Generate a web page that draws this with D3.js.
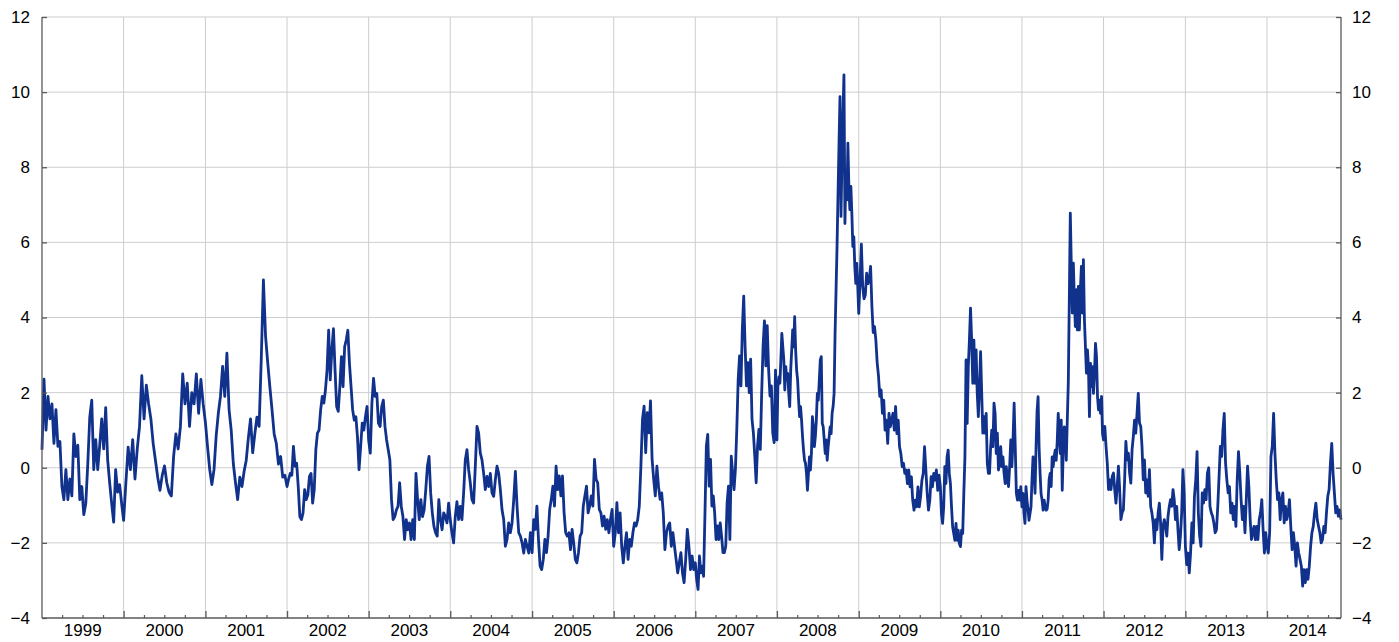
<!DOCTYPE html>
<html>
<head>
<meta charset="utf-8">
<script src="https://d3js.org/d3.v7.min.js"></script>
<style>
body { margin: 0; background: #fff; }
svg { display: block; font-family: "Liberation Sans", Arial, sans-serif; }
</style>
</head>
<body>
<svg id="chart" width="1399" height="642"></svg>
<script>
// values, evenly spread over each calendar year
var d1999 = [0.48, 2.36, 1.0, 1.9, 1.3, 1.7, 0.65, 1.55, 0.57, 0.7, -0.5, -0.85, -0.05, -0.85, -0.3, -0.75, 0.9, 0.3, 0.6, -0.85, -0.5, -1.25, -0.95, 0.1, 1.35, 1.8, -0.05, 0.75, -0.05, 0.6, 1.3, 0.5, 1.6, 0.2, -0.4, -0.95, -1.45, -0.05, -0.65, -0.45, -0.95];
var d2000 = [-1.4, -0.4, 0.55, -0.05, 0.75, -0.3, 0.5, 1.1, 2.45, 1.3, 2.2, 1.7, 1.3, 0.65, 0.2, -0.25, -0.6, -0.2, 0.05, -0.4, -0.65, -0.75, 0.3, 0.9, 0.5, 1.1, 2.5, 1.7, 2.25, 1.1, 2.0, 1.7, 2.5, 1.45, 2.35, 1.7];
var d2001 = [1.2, 0.55, -0.05, -0.45, -0.05, 0.85, 1.45, 1.9, 2.7, 1.9, 3.05, 1.55, 1.0, 0.1, -0.4, -0.85, -0.25, -0.5, -0.1, 0.2, 0.8, 1.3, 0.4, 0.9, 1.35, 1.1, 2.9, 5.0, 3.5, 2.8, 2.15, 1.55, 0.9, 0.65, 0.1, 0.3, -0.25, -0.2];
var d2002 = [-0.5, -0.3, -0.15, -0.2, 0.57, 0.04, 0.12, -0.5, -1.3, -1.38, -1.2, -0.58, -0.85, -0.72, -0.23, -0.15, -0.94, -0.58, 0.48, 0.92, 1.0, 1.54, 1.9, 1.72, 2.07, 2.6, 3.66, 2.34, 3.13, 3.7, 2.6, 1.63, 1.5, 2.16, 2.96, 2.16, 3.22, 3.4, 3.66, 2.78, 2.16, 1.54, 1.27, 1.36, 0.83, -0.05, 0.57, 1.19, 1.0, 1.36, 1.63];
var d2003 = [0.74, 0.39, 1.72, 2.38, 1.9, 1.98, 1.19, 1.1, 1.63, 1.8, 1.1, 0.74, 0.48, 0.21, -0.85, -1.38, -1.3, -1.12, -1.03, -0.4, -1.03, -1.3, -1.91, -1.38, -1.65, -1.47, -1.91, -1.38, -1.91, -0.15, -0.85, -1.38, -0.85, -1.3, -1.12, -0.58, 0.04, 0.3, -0.67, -1.2, -1.56, -1.73, -1.82, -0.85, -1.38, -1.65, -1.2, -1.3, -1.47, -0.94];
var d2004 = [-1.38, -1.73, -2.0, -1.3, -0.9, -1.38, -1.03, -1.38, -0.67, 0.21, 0.48, -0.05, -0.4, -0.85, -0.94, 0.04, 1.1, 0.92, 0.39, 0.21, -0.15, -0.58, -0.23, -0.5, -0.15, -0.67, -0.76, -0.32, 0.04, -0.15, -0.58, -1.12, -1.38, -2.09, -1.91, -1.47, -1.73, -1.47, -0.85, -0.1, -1.03, -1.73, -1.82, -2.0, -2.27, -1.91, -2.09, -2.27, -1.73];
var d2005 = [-2.26, -1.38, -1.64, -1.02, -1.91, -2.62, -2.71, -2.44, -1.91, -2.26, -1.82, -1.11, -0.84, -0.49, -1.02, 0.04, -0.58, -0.22, -0.75, -0.22, -1.2, -1.73, -1.82, -1.73, -2.18, -1.64, -2.0, -2.44, -2.53, -2.26, -1.82, -1.73, -1.02, -0.75, -0.49, -1.2, -1.02, -0.75, -1.02, 0.22, -0.31, -0.4, -1.11, -1.2, -1.55, -1.29, -1.64, -1.38, -1.73, -1.38, -1.11];
var d2006 = [-2.09, -1.73, -0.93, -1.73, -1.2, -2.09, -2.53, -2.09, -1.73, -2.44, -1.91, -2.09, -1.73, -1.47, -1.55, -1.38, -1.02, 0.04, 1.29, 1.64, 0.4, 1.47, 0.93, 1.78, 0.22, -0.31, -0.75, 0.04, -0.49, -0.84, -0.67, -1.2, -2.18, -1.73, -1.55, -1.47, -2.09, -1.73, -2.09, -2.44, -2.8, -2.53, -2.26, -2.8, -3.06, -2.44, -1.64, -2.09, -2.71, -2.35, -2.71];
var d2007 = [-2.53, -2.98, -3.24, -2.35, -2.8, -2.62, -2.89, -1.2, 0.58, 0.89, -0.49, 0.22, -1.02, -0.75, -1.2, -1.91, -1.55, -1.91, -1.47, -1.82, -2.26, -2.26, -2.09, -0.93, -0.49, -1.91, 0.31, -0.13, -0.58, -0.04, 1.02, 2.35, 2.98, 2.18, 3.69, 4.57, 3.24, 2.18, 2.8, 2.0, 2.89, 1.29, 0.93, 0.31, -0.4, 0.58, 1.02, 0.49, 2.0, 3.24, 3.91, 2.71, 3.78, 2.62, 1.91, 2.18, 0.93, 0.67, 2.6];
var d2008 = [0.74, 2.16, 2.42, 2.25, 2.87, 3.58, 3.22, 2.87, 2.07, 2.69, 2.34, 2.51, 1.98, 1.63, 2.6, 3.13, 3.67, 3.22, 4.02, 3.13, 2.6, 2.34, 1.8, 1.36, 1.63, 1.27, 0.83, 0.47, 0.2, 0.12, -0.15, -0.6, -0.15, 0.29, -0.06, 0.38, 1.36, 1.09, 0.56, 0.83, 1.27, 1.98, 1.8, 2.34, 2.87, 2.96, 1.18, 1.09, 0.74, 0.38, 0.74, 0.2, 0.56, 0.83, 1.09, 0.91, 1.45, 1.63, 1.98, 3.58, 4.73, 5.89, 7.31, 8.64, 9.88, 6.69, 8.2, 9.44, 10.46, 6.5, 7.84, 7.13, 8.64, 7.49, 6.87, 7.49, 6.78, 5.89, 6.15, 5.36, 4.91, 5.44, 4.82];
var d2009 = [4.11, 5.0, 5.95, 4.82, 4.5, 4.6, 5.18, 4.9, 5.0, 5.36, 4.3, 3.6, 3.76, 3.4, 2.8, 2.45, 1.9, 2.07, 1.45, 1.8, 1.0, 1.27, 0.65, 1.45, 1.09, 1.27, 1.45, 1.0, 1.63, 0.91, 1.27, 0.56, 0.38, 0.03, 0.12, -0.15, -0.06, -0.42, -0.06, -0.51, -0.24, -0.86, -1.13, -0.86, -1.04, -0.51, -1.04, -0.77, -0.33, -0.15, 0.56, -0.06, -0.68, -1.13, -0.86, -0.24, -0.51, -0.15, -0.33, -0.06, -0.6, -0.2];
var d2010 = [-0.5, -1.22, -1.48, -1.04, 0.03, -0.42, 0.29, 0.47, -0.15, -0.42, -1.04, -1.57, -1.75, -1.93, -1.48, -1.93, -1.66, -2.02, -2.1, -1.66, -1.75, -0.68, 0.29, 2.87, 1.18, 2.69, 3.4, 4.25, 3.4, 2.25, 3.4, 2.25, 3.14, 1.98, 1.36, 2.16, 3.09, 1.98, 0.92, 1.36, 0.92, 1.45, 0.12, -0.15, -0.15, 0.56, 1.0, 0.56, 1.72, 1.45, 0.38, 0.92, -0.06, 0.12, 0.56, 0.03, 0.29, -0.15, -0.42, 0.03, -0.33, -0.5, 0.03, 0.74, 0.03, 0.74, 1.72, 0.56, -0.68, -0.86, -0.6, -0.86, -0.5];
var d2011 = [-1.04, -0.68, -1.2, -1.48, -0.5, -0.86, -1.1, -1.4, -1.22, -1.04, -0.3, 0.29, 0.03, -0.68, 0.56, 1.5, 1.89, 0.56, -0.15, -0.7, -0.86, -1.13, -0.86, -1.04, -1.13, -1.1, -0.86, -0.3, -0.15, -0.5, 0.29, 0.03, 0.3, 0.47, 0.2, 0.7, 1.45, 0.9, 0.38, 1.27, -0.6, 0.5, 1.09, 0.92, 0.2, 1.27, 2.25, 4.47, 6.78, 5.36, 4.12, 5.45, 4.47, 3.76, 4.74, 3.67, 4.83, 3.67, 4.74, 5.36, 4.12, 5.54, 3.94, 3.23, 2.52, 3.14, 2.69, 1.36, 2.78, 2.16, 2.69, 1.98, 2.52, 3.31, 2.96, 1.89, 1.54, 1.8, 1.45, 1.9, 0.9];
var d2012 = [0.74, 1.1, 0.57, 0.12, -0.58, -0.32, -0.58, -0.23, -0.14, -0.58, -0.94, -0.5, 0.04, -0.58, -1.38, -1.2, -1.12, -0.32, 0.7, 0.21, 0.39, -0.14, -0.41, 0.48, 0.83, 1.27, 0.92, 1.45, 1.98, 1.19, 1.1, 0.57, -0.32, 0.21, -0.67, -0.32, -0.76, -0.05, -1.03, -1.2, -1.47, -2.0, -1.38, -1.65, -1.2, -0.94, -1.47, -2.44, -1.56, -1.38, -1.56, -1.82, -1.29, -1.03, -0.85, -1.03, -0.58, -0.85, -1.38, -1.03, -1.65, -2.18, -1.82, -1.2, -0.05, -0.67];
var d2013 = [-2.09, -2.58, -2.27, -2.8, -2.27, -1.47, -2.0, -0.76, -0.32, 0.43, -1.2, -1.82, -2.09, -0.67, -0.94, -0.58, -0.85, -0.14, 0.0, -1.03, -1.2, -1.29, -1.47, -1.73, -1.65, -1.03, -0.23, 0.57, 0.3, 1.01, 1.45, 0.13, -0.32, -0.67, -0.5, -1.2, -0.94, -1.38, -1.03, -1.56, -0.32, 0.43, -0.14, -0.85, -1.38, -1.03, -1.73, -0.85, 0.04, -0.5, -1.38, -1.91, -1.73, -1.56, -1.91, -1.56, -1.91, -1.38, -1.2, -0.85, -1.65, -2.27, -1.73];
var d2014 = [-2.09, -2.27, -1.73, 0.3, 0.57, 1.45, 0.39, -0.32, -0.85, -0.67, -1.38, -0.85, -0.67, -1.47, -1.03, -1.38, -1.2, -0.85, -1.56, -2.18, -1.73, -2.09, -2.62, -2.0, -2.27, -2.44, -2.62, -3.15, -2.71, -3.06, -2.71, -2.97, -2.62, -2.09, -1.73, -1.56, -1.2, -0.94, -1.38, -1.56, -1.73, -2.0, -1.91, -1.56, -1.73, -1.2, -0.76, -0.58, 0.12, 0.65, -0.14, -0.67, -1.2, -1.03, -1.29, -1.12, -1.38];

var years = [1999, 2000, 2001, 2002, 2003, 2004, 2005, 2006, 2007, 2008, 2009, 2010, 2011, 2012, 2013, 2014];
var yearData = [d1999, d2000, d2001, d2002, d2003, d2004, d2005, d2006, d2007, d2008, d2009, d2010, d2011, d2012, d2013, d2014];
var firstDay = "1999-01-01";
var lastDay = "2014-11-28";
var yTicks = [-4, -2, 0, 2, 4, 6, 8, 10, 12];

var width = 1399, height = 642;
var margin = {top: 17, right: 58, bottom: 24, left: 42};

var parse = d3.timeParse("%Y-%m-%d");
var start = parse(firstDay), end = parse(lastDay);

var x = d3.scaleTime().domain([start, end]).range([margin.left, width - margin.right]);
var y = d3.scaleLinear().domain([-4, 12]).range([height - margin.bottom, margin.top]);

// spread each year's values evenly between its Jan 1 and the next Jan 1
var series = [];
years.forEach((yr, k) => {
    var vals = yearData[k];
    var t0 = new Date(yr, 0, 1);
    var last = yr === years[years.length - 1];
    var t1 = last ? end : new Date(yr + 1, 0, 1);
    var n = last ? vals.length - 1 : vals.length;
    vals.forEach((v, i) => {
        series.push({date: new Date(+t0 + (t1 - t0) * i / n), value: v});
    });
});

var svg = d3.select("#chart");
var gridColor = "#cdcdcd";
var axisColor = "#5a5a5a";

// horizontal grid
svg.append("g")
    .selectAll("line")
    .data(yTicks.filter(d => d > -4))
    .join("line")
    .attr("x1", margin.left)
    .attr("x2", width - margin.right)
    .attr("y1", d => y(d))
    .attr("y2", d => y(d))
    .attr("stroke", gridColor)
    .attr("stroke-width", 1);

// vertical grid at year boundaries
var yearStarts = d3.timeYear.range(d3.timeYear.offset(start, 1), end);
svg.append("g")
    .selectAll("line")
    .data(yearStarts)
    .join("line")
    .attr("x1", d => x(d))
    .attr("x2", d => x(d))
    .attr("y1", margin.top)
    .attr("y2", height - margin.bottom)
    .attr("stroke", gridColor)
    .attr("stroke-width", 1);

// the series
var line = d3.line()
    .x(d => x(d.date))
    .y(d => y(d.value));

svg.append("path")
    .datum(series)
    .attr("fill", "none")
    .attr("stroke", "#10318c")
    .attr("stroke-width", 2.8)
    .attr("stroke-linejoin", "round")
    .attr("d", line);

// y axes, both sides
var leftAxis = d3.axisLeft(y).tickValues(yTicks).tickSize(-5).tickPadding(12).tickFormat(d3.format("d"));
var rightAxis = d3.axisRight(y).tickValues(yTicks).tickSize(-5).tickPadding(11).tickFormat(d3.format("d"));

function styleAxis(g) {
    g.select(".domain").attr("stroke", axisColor).attr("stroke-width", 1.3);
    g.selectAll(".tick line").attr("stroke", axisColor).attr("stroke-width", 1.3);
    g.selectAll(".tick text").attr("fill", "#000").attr("font-size", 17)
        .attr("font-family", "Liberation Sans, Arial, sans-serif");
}

svg.append("g")
    .attr("transform", `translate(${margin.left},0)`)
    .call(leftAxis)
    .call(styleAxis)
    .call(g => g.select(".domain").attr("d", `M0,${y(12)}V${y(-4)}`));

svg.append("g")
    .attr("transform", `translate(${width - margin.right},0)`)
    .call(rightAxis)
    .call(styleAxis)
    .call(g => g.select(".domain").attr("d", `M0,${y(12)}V${y(-4)}`));

// bottom axis: quarterly minor ticks, yearly major ticks, labels mid-year
var baseY = height - margin.bottom;
var quarters = d3.timeMonth.every(3).range(start, end).filter(d => d.getMonth() !== 0);

svg.append("g")
    .attr("transform", `translate(0,${baseY})`)
    .call(d3.axisBottom(x).tickValues(quarters).tickSize(-3).tickFormat(""))
    .call(g => g.select(".domain").remove())
    .call(g => g.selectAll(".tick line").attr("stroke", axisColor).attr("stroke-width", 1.2));

svg.append("g")
    .attr("transform", `translate(0,${baseY})`)
    .call(d3.axisBottom(x).tickValues(yearStarts).tickSize(-7).tickFormat(""))
    .call(g => g.select(".domain").attr("d", `M${margin.left},0H${width - margin.right}`)
        .attr("stroke", axisColor).attr("stroke-width", 1.3))
    .call(g => g.selectAll(".tick line").attr("stroke", axisColor).attr("stroke-width", 1.3));

svg.append("g")
    .selectAll("text")
    .data(years)
    .join("text")
    .attr("x", d => x(new Date(d, 6, 2)))
    .attr("y", baseY + 17.5)
    .attr("text-anchor", "middle")
    .attr("font-size", 17)
    .attr("fill", "#000")
    .text(d => d);
</script>
</body>
</html>
